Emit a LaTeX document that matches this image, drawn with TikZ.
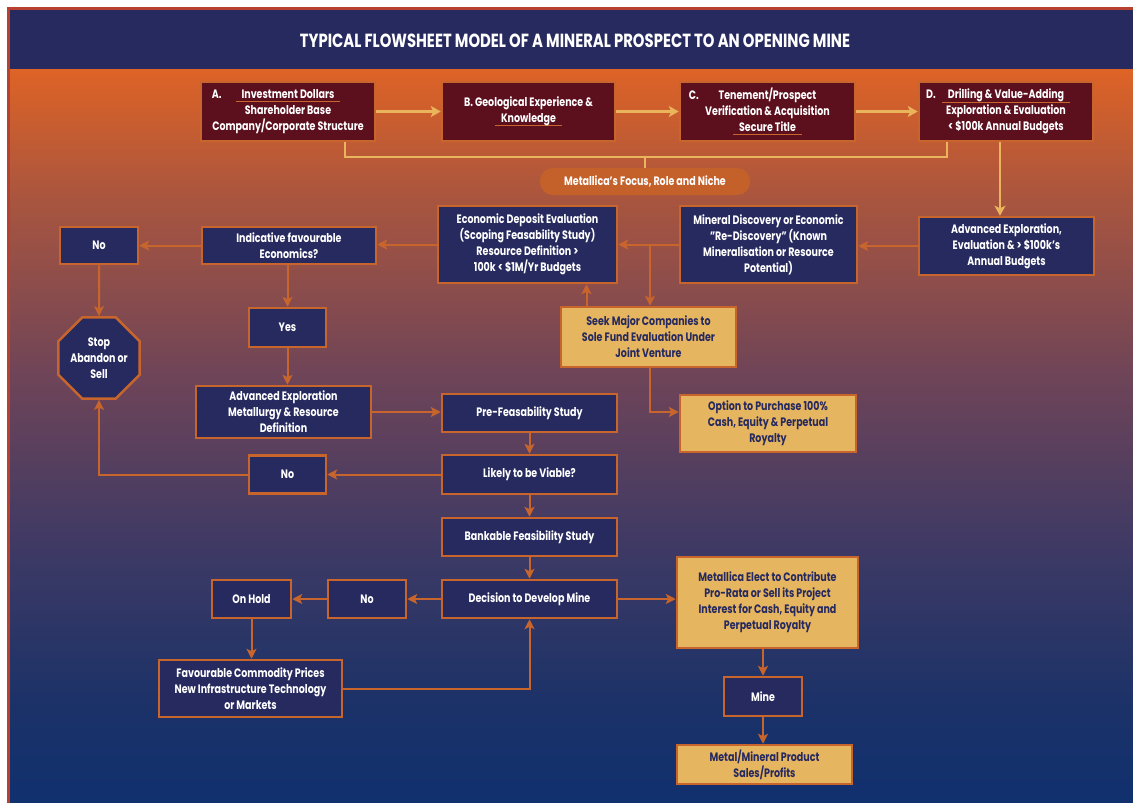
\documentclass[tikz,border=0pt]{standalone}
\usepackage{fontspec}
\setmainfont{Poppins}[FakeStretch=0.78]
\usetikzlibrary{arrows.meta,shapes.geometric}

\definecolor{bandnavy}{HTML}{272A5E}
\definecolor{boxnavy}{HTML}{272A5F}
\definecolor{boxmaroon}{HTML}{5C0F1D}
\definecolor{rimorange}{HTML}{C8652C}
\definecolor{linkgold}{HTML}{E9B45C}
\definecolor{boxgold}{HTML}{E6B55F}
\definecolor{pillorange}{HTML}{C4612B}
\definecolor{framered}{HTML}{B8402E}
\definecolor{fadeA}{RGB}{16,48,110}
\definecolor{fadeB}{RGB}{28,50,104}
\definecolor{fadeC}{RGB}{64,58,100}
\definecolor{fadeD}{RGB}{110,68,88}
\definecolor{fadeE}{RGB}{168,85,63}
\definecolor{fadeF}{RGB}{222,99,38}

\pgfdeclareverticalshading{bgfade}{100bp}{color(0bp)=(fadeA); color(25bp)=(fadeA); color(32bp)=(fadeB); color(43bp)=(fadeC); color(54bp)=(fadeD); color(66bp)=(fadeE); color(75bp)=(fadeF); color(100bp)=(fadeF)}

\newcommand\orul[1]{\setbox0\hbox{#1}\makebox[0pt][l]{\hspace*{-6pt}\color{rimorange}\rule[-4pt]{\dimexpr\wd0+12pt\relax}{1pt}}\box0}

\begin{document}
\begin{tikzpicture}[x=1pt,y=-1pt,
	every node/.style={font=\bfseries\fontsize{12.2}{16}\selectfont, align=center, inner sep=2pt},
	maroonbox/.style={draw=rimorange, line width=2.5pt, fill=boxmaroon, text=white},
	navybox/.style={draw=rimorange, line width=2.5pt, fill=boxnavy, text=white},
	goldbox/.style={draw=rimorange, line width=2.5pt, fill=boxgold, text=boxnavy},
	link/.style={draw=rimorange, line width=2pt, -{Stealth[length=10pt,width=10pt,inset=2.5pt]}},
	goldlink/.style={draw=linkgold, line width=2.5pt, -{Stealth[length=10pt,width=11pt,inset=2.5pt]}},
	]
		\useasboundingbox (0,0) rectangle (1133,803);
		\fill[white] (0,0) rectangle (1133,803);
		\fill[framered] (7,7) rectangle (1133,803);
		\shade[shading=bgfade] (10,69) rectangle (1133,803);
		\fill[bandnavy] (10,10) rectangle (1133,69);
		
		\node[text=white, font=\bfseries\fontsize{19}{21}\selectfont] (title) at (575,41) {TYPICAL FLOWSHEET MODEL OF A MINERAL PROSPECT TO AN OPENING MINE};
		
		\node[maroonbox, minimum width=174, minimum height=59] (A) at (288,111.5) {\llap{A.\hspace{20pt}}\orul{Investment Dollars}\\Shareholder Base\\Company/Corporate Structure};
		\node[maroonbox, minimum width=173, minimum height=59] (B) at (528.5,111.5) {B. Geological Experience \&\\\orul{Knowledge}};
		\node[maroonbox, minimum width=175, minimum height=59] (C) at (767.5,111.5) {\llap{C.\hspace{20pt}}Tenement/Prospect\\Verification \& Acquisition\\\orul{Secure Title}};
		\node[maroonbox, minimum width=174, minimum height=59] (D) at (1006,111.5) {\llap{D.\hspace{12pt}}\orul{Drilling \& Value-Adding}\\Exploration \& Evaluation\\< \$100k Annual Budgets};
		\node[fill=pillorange, text=white, rounded corners=13pt, minimum width=210, minimum height=27] (focus) at (645,181.5) {Metallica's Focus, Role and Niche};
		
		\node[navybox, minimum width=175, minimum height=58] (advexp) at (1006.5,246) {Advanced Exploration,\\Evaluation \& > \$100k's\\Annual Budgets};
		\node[navybox, minimum width=177, minimum height=77] (discov) at (768.5,244.5) {Mineral Discovery or Economic\\"Re-Discovery" (Known\\Mineralisation or Resource\\Potential)};
		\node[navybox, minimum width=179, minimum height=77] (econ) at (527.5,244.5) {Economic Deposit Evaluation\\(Scoping Feasability Study)\\Resource Definition >\\100k < \$1M/Yr Budgets};
		\node[navybox, minimum width=174, minimum height=37] (indic) at (289,245.5) {Indicative favourable\\Economics?};
		\node[navybox, minimum width=78, minimum height=37] (no1) at (99,245.5) {No};
		\node[navybox, regular polygon, regular polygon sides=8, minimum size=75, inner sep=0pt] (stop) at (99,358) {Stop\\Abandon or\\Sell};
		\node[goldbox, minimum width=175, minimum height=60] (seek) at (648.5,337) {Seek Major Companies to\\Sole Fund Evaluation Under\\Joint Venture};
		\node[navybox, minimum width=77, minimum height=39] (yes) at (287.5,327.5) {Yes};
		\node[navybox, minimum width=175, minimum height=52] (advexp2) at (283.5,412) {Advanced Exploration\\Metallurgy \& Resource\\Definition};
		\node[navybox, minimum width=175, minimum height=38] (prefeas) at (529.5,413) {Pre-Feasability Study};
		\node[goldbox, minimum width=176, minimum height=57] (option) at (768,423.5) {Option to Purchase 100\%\\Cash, Equity \& Perpetual\\Royalty};
		\node[navybox, minimum width=175, minimum height=39] (likely) at (529.5,474.5) {Likely to be Viable?};
		\node[navybox, minimum width=77, minimum height=38] (no2) at (287.5,474.5) {No};
		\node[navybox, minimum width=175, minimum height=38] (bank) at (529.5,537) {Bankable Feasibility Study};
		\node[navybox, minimum width=175, minimum height=38] (decide) at (529.5,599) {Decision to Develop Mine};
		\node[navybox, minimum width=78, minimum height=38] (no3) at (367,599) {No};
		\node[navybox, minimum width=79, minimum height=38] (hold) at (251.5,599) {On Hold};
		\node[navybox, minimum width=183, minimum height=57] (fav) at (250.5,688.5) {Favourable Commodity Prices\\New Infrastructure Technology\\or Markets};
		\node[goldbox, minimum width=181, minimum height=91] (elect) at (767.5,602.5) {Metallica Elect to Contribute\\Pro-Rata or Sell its Project\\Interest for Cash, Equity and\\Perpetual Royalty};
		\node[navybox, minimum width=78, minimum height=39] (mine) at (763,696.5) {Mine};
		\node[goldbox, minimum width=175, minimum height=39] (metal) at (764.5,764.5) {Metal/Mineral Product\\Sales/Profits};
		
		\draw[goldlink] (A) -- (B);
		\draw[goldlink] (B) -- (C);
		\draw[goldlink] (C) -- (D);
		\coordinate (brk) at (645,157);
		\draw[linkgold, line width=2pt] ([xshift=57pt]A.south) |- (brk) -| ([xshift=-59pt]D.south);
		\draw[linkgold, line width=2pt] (brk) -- (focus.north);
		\draw[goldlink] ([xshift=-6pt]D.south) -- ([xshift=-6pt]D.south |- advexp.north);
		
		\draw[link] (advexp.west) -- (advexp.west -| discov.east);
		\draw[link] (discov.west) -- (discov.west -| econ.east);
		\coordinate (jv) at (650,244.5);
		\draw[link] (jv) -- (jv |- seek.north);
		\draw[link] ([xshift=-62pt]seek.north) -- ([xshift=-62pt]seek.north |- econ.south);
		\draw[link] ([xshift=1.5pt]seek.south) |- ([yshift=11.5pt]option.west);
		\draw[link] (econ.west) -- (econ.west -| indic.east);
		\draw[link] (indic) -- (no1);
		\draw[link] (no1) -- (stop);
		\draw[link] (yes.north |- indic.south) -- (yes.north);
		\draw[link] (yes.south) -- (yes.south |- advexp2.north);
		\draw[link] (advexp2.east) -- (advexp2.east -| prefeas.west);
		\draw[link] (prefeas) -- (likely);
		\draw[link] (likely) -- (no2);
		\draw[link] (no2.west) -| (stop.south);
		\draw[link] (likely) -- (bank);
		\draw[link] (bank) -- (decide);
		\draw[link] (decide) -- (no3);
		\draw[link] (no3) -- (hold);
		\draw[link] (hold.south) -- (hold.south |- fav.north);
		\draw[link] (fav.east) -| (decide.south);
		\draw[link] (decide.east) -- (decide.east -| elect.west);
		\draw[link] (mine.north |- elect.south) -- (mine.north);
		\draw[link] (mine.south) -- (mine.south |- metal.north);
	\end{tikzpicture}
\end{document}
